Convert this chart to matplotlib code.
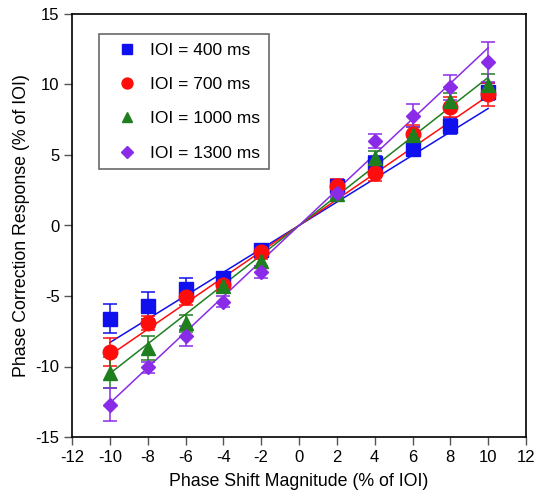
import numpy as np
import matplotlib
matplotlib.use('Agg')
import matplotlib.pyplot as plt

plt.rcParams['font.family'] = ['Liberation Sans', 'DejaVu Sans']
plt.rcParams['axes.unicode_minus'] = False

shift = [-10, -8, -6, -4, -2, 2, 4, 6, 8, 10]

ioi_400 = [-6.6, -5.7, -4.5, -3.75, -1.75, 2.8, 4.4, 5.4, 7.05, 9.5]
err_400 = [1.05, 0.95, 0.8, 0.45, 0.4, 0.45, 0.55, 0.45, 0.55, 0.6]
ioi_700 = [-8.95, -6.9, -5.05, -4.25, -1.85, 2.8, 3.7, 6.5, 8.4, 9.3]
err_700 = [1.0, 0.5, 0.6, 0.4, 0.5, 0.5, 0.55, 0.6, 0.7, 0.8]
ioi_1000 = [-10.45, -8.7, -6.95, -4.3, -2.5, 2.2, 4.8, 6.4, 8.8, 9.95]
err_1000 = [1.1, 0.85, 0.6, 0.5, 0.4, 0.3, 0.5, 0.6, 0.6, 0.8]
ioi_1300 = [-12.7, -10.05, -7.85, -5.4, -3.3, 2.3, 6.0, 7.8, 9.8, 11.6]
err_1300 = [1.2, 0.4, 0.7, 0.4, 0.4, 0.3, 0.5, 0.8, 0.9, 1.4]

# slopes of the fitted lines through the origin
slopes = [0.83, 0.92, 1.05, 1.26]

labels = ['IOI = 400 ms', 'IOI = 700 ms', 'IOI = 1000 ms', 'IOI = 1300 ms']
colors = ['#1010ee', '#ff0d0d', '#1f7f1f', '#8a2be8']
markers = ['s', 'o', '^', 'D']
msizes = [10, 10.5, 9.5, 7.5]

fig = plt.figure(figsize=(5.37, 4.94), dpi=100)
ax = fig.add_axes([72/537, 1 - 437/494, 454/537, 423/494])

series = [(ioi_400, err_400), (ioi_700, err_700), (ioi_1000, err_1000), (ioi_1300, err_1300)]
x_line = np.array([-10, 10])
for (vals, errs), s, c, m, ms, lab in zip(series, slopes, colors, markers, msizes, labels):
    ax.plot(x_line, s * x_line, color=c, lw=1.1, zorder=2)
    ax.errorbar(shift, vals, yerr=errs, fmt=m, color=c, ms=ms, ecolor=c,
                elinewidth=1.1, capsize=5, capthick=1.1, zorder=3, label=lab)

ax.set_xlim(-12, 12)
ax.set_ylim(-15, 15)
ax.set_xticks(range(-12, 13, 2))
ax.set_yticks(range(-15, 16, 5))
ax.tick_params(direction='out', length=5.5, width=1, labelsize=12, top=False, right=False,
               color='#555555')
for sp in ax.spines.values():
    sp.set_linewidth(1.2)
ax.set_xlabel('Phase Shift Magnitude (% of IOI)', fontsize=12.8, labelpad=6)
ax.set_ylabel('Phase Correction Response (% of IOI)', fontsize=12.8, labelpad=4)

handles, labs = ax.get_legend_handles_labels()
handles = [h[0] for h in handles]
leg = ax.legend(handles, labs, loc='upper left', bbox_to_anchor=(0.0595, 0.9527),
                fontsize=12.5, frameon=True, fancybox=False, edgecolor='#444444',
                markerscale=0.75, handlelength=2.2, handletextpad=0.24,
                labelspacing=1.1, borderpad=0.5, borderaxespad=0)
leg.get_frame().set_linewidth(1.2)

fig.savefig('out.png', dpi=100)
